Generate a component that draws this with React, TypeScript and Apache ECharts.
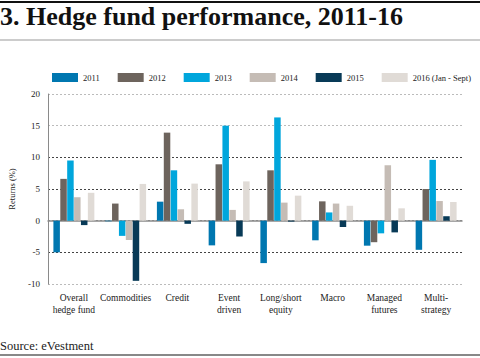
import React, { useEffect, useRef } from "react";
import * as echarts from "echarts";

const categories = [
  "Overall\nhedge fund",
  "Commodities",
  "Credit",
  "Event\ndriven",
  "Long/short\nequity",
  "Macro",
  "Managed\nfutures",
  "Multi-\nstrategy",
];
const seriesNames = ["2011", "2012", "2013", "2014", "2015", "2016 (Jan - Sept)"];
const v2011 = [-5.0, -0.1, 3.0, -3.9, -6.7, -3.1, -3.95, -4.6];
const v2012 = [6.6, 2.7, 13.9, 8.9, 7.95, 3.05, -3.4, 5.0];
const v2013 = [9.5, -2.4, 7.95, 15.0, 16.3, 1.3, -2.0, 9.6];
const v2014 = [3.7, -3.05, 1.8, 1.7, 2.85, 2.7, 8.75, 3.1];
const v2015 = [-0.7, -9.5, -0.5, -2.5, -0.15, -1.0, -1.85, 0.7];
const v2016 = [4.4, 5.8, 5.85, 6.2, 3.95, 2.35, 1.95, 2.95];
const colors = ["#0077b0", "#6d645d", "#00a6dc", "#c5bcb5", "#083a57", "#e0dbd6"];

const FONT = "Liberation Serif";

export default function App() {
  const ref = useRef<HTMLDivElement>(null);
  useEffect(() => {
    if (!ref.current) return;
    const chart = echarts.init(ref.current, null, { renderer: "svg" });
    const all = [v2011, v2012, v2013, v2014, v2015, v2016];
    chart.setOption({
      animation: false,
      textStyle: { fontFamily: FONT },
      color: colors,
      title: {
        text: "3. Hedge fund performance, 2011-16",
        left: 0,
        top: 3,
        padding: 0,
        textStyle: { fontFamily: FONT, fontWeight: "bold", fontSize: 26, color: "#111" },
      },
      graphic: [
        { type: "line", shape: { x1: 0, y1: 2, x2: 480, y2: 2 }, style: { stroke: "#111", lineWidth: 2 } },
        { type: "line", shape: { x1: 0, y1: 40, x2: 480, y2: 40 }, style: { stroke: "#999", lineWidth: 1 } },
        { type: "line", shape: { x1: 0, y1: 355, x2: 480, y2: 355 }, style: { stroke: "#888", lineWidth: 2 } },
        {
          type: "text",
          left: 0,
          top: 339,
          style: { text: "Source: eVestment", font: `12.5px "${FONT}"`, fill: "#222" },
        },
      ],
      legend: {
        left: 52,
        top: 73,
        padding: 0,
        itemWidth: 26,
        itemHeight: 9,
        itemGap: 18,
        icon: "rect",
        textStyle: { fontFamily: FONT, fontSize: 8.5, color: "#222" },
        data: seriesNames,
      },
      grid: { left: 48, right: 18, top: 94, bottom: 74, outerBoundsMode: "none", containLabel: false },
      xAxis: {
        type: "category",
        data: categories,
        axisLine: { onZero: true, lineStyle: { color: "#8a8a8a", width: 1.5 } },
        axisTick: { show: false },
        axisLabel: {
          interval: 0,
          fontFamily: FONT,
          fontSize: 9.5,
          color: "#222",
          lineHeight: 12,
          margin: 8,
        },
      },
      yAxis: {
        type: "value",
        min: -10,
        max: 20,
        interval: 5,
        name: "Returns (%)",
        nameLocation: "middle",
        nameGap: 32,
        nameTextStyle: { fontFamily: FONT, fontSize: 8.5, color: "#222" },
        axisLine: { show: true, lineStyle: { color: "#8a8a8a", width: 1 } },
        axisTick: { show: false },
        axisLabel: { fontFamily: FONT, fontSize: 9, color: "#222", margin: 8 },
        splitLine: {
          lineStyle: {
            color: ["#bbbbbb", "#444444", "#8a8a8a", "#444444", "#444444", "#bbbbbb", "#bbbbbb"],
            type: [2, 2],
            width: 1,
          },
        },
      },
      series: all.map((d, i) => ({
        name: seriesNames[i],
        type: "bar",
        data: d,
        barWidth: 6.5,
        barGap: "6%",
      })),
    });
    return () => chart.dispose();
  }, []);
  return <div ref={ref} style={{ width: 480, height: 358, position: "absolute", left: 0, top: 0 }} />;
}
